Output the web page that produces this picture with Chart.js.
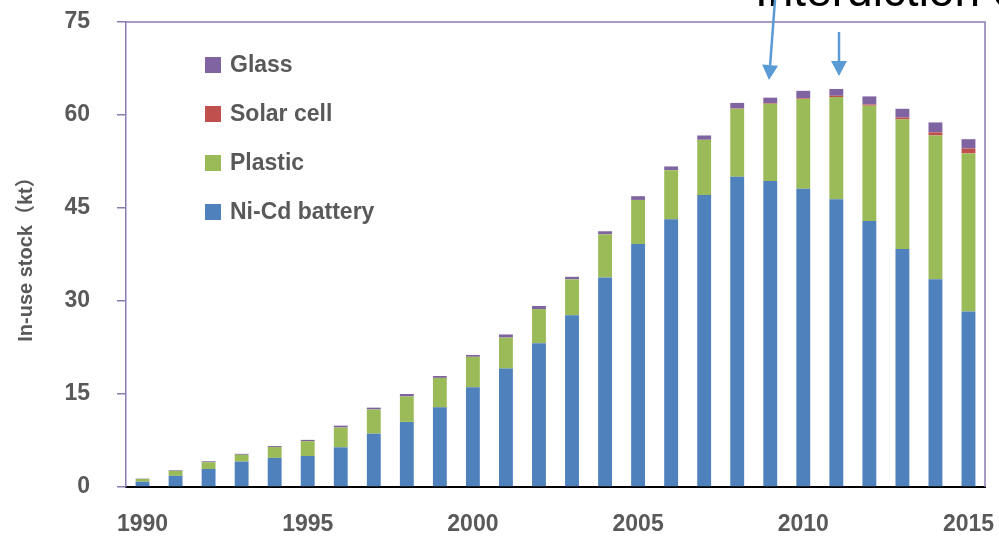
<!DOCTYPE html>
<html>
<head>
<meta charset="utf-8">
<script src="https://cdn.jsdelivr.net/npm/chart.js@4.4.0/dist/chart.umd.min.js"></script>
<style>
  html, body { margin: 0; padding: 0; background: #fff; }
  #wrap { width: 999px; height: 536px; position: relative; }
</style>
</head>
<body>
<div id="wrap"><canvas id="chart"></canvas></div>
<script>
"use strict";
const $ = id => document.getElementById(id);

/* ---------- data (kt) ---------- */
const years = [1990, 1991, 1992, 1993, 1994, 1995, 1996, 1997, 1998, 1999, 2000, 2001, 2002,
  2003, 2004, 2005, 2006, 2007, 2008, 2009, 2010, 2011, 2012, 2013, 2014, 2015];
const nicd    = [0.85, 1.8, 2.9, 4.1, 4.7, 5.0, 6.4, 8.6, 10.5, 12.85, 16.1, 19.1, 23.2,
  27.7, 33.8, 39.2, 43.2, 47.1, 50.05, 49.35, 48.1, 46.4, 42.9, 38.4, 33.5, 28.3];
const plastic = [0.45, 0.8, 1.1, 1.1, 1.75, 2.4, 3.2, 3.9, 4.1, 4.75, 4.9, 5.0, 5.5,
  5.8, 6.95, 7.1, 7.9, 8.9, 10.95, 12.45, 14.5, 16.5, 18.6, 20.9, 23.2, 25.5];
const solar   = [0, 0, 0, 0, 0, 0, 0, 0, 0, 0, 0, 0, 0,
  0, 0, 0, 0, 0, 0.05, 0.1, 0.1, 0.2, 0.2, 0.3, 0.5, 0.8];
const glass   = [0.05, 0.1, 0.15, 0.15, 0.15, 0.2, 0.3, 0.3, 0.4, 0.3, 0.3, 0.5, 0.5,
  0.4, 0.5, 0.6, 0.6, 0.7, 0.9, 0.9, 1.2, 1.1, 1.3, 1.4, 1.6, 1.5];
const yTicks = [0, 15, 30, 45, 60, 75];

const GREY = "#595959";
const PURPLE = "#8B7BB0";
const FONT = "'Liberation Sans', Arial, sans-serif";

/* ---------- legend drawn inside the plot ---------- */
const legendInside = {
  id: "legendInside",
  afterDraw(chart) {
    const ctx = chart.ctx;
    const ds = chart.data.datasets.slice().reverse();
    ctx.save();
    ctx.font = "bold 23px " + FONT;
    ctx.textBaseline = "middle";
    ds.forEach((d, i) => {
      const y = 65 + i * 49;
      ctx.fillStyle = d.backgroundColor;
      ctx.fillRect(205, y - 8, 16, 16);
      ctx.fillStyle = GREY;
      ctx.fillText(d.label, 230, y + 1);
    });
    ctx.restore();
  }
};

/* ---------- frame (top/right) + annotation arrows ---------- */
function arrow(ctx, x0, y0, x1, y1) {
  const a = Math.atan2(y1 - y0, x1 - x0), hl = 15, hw = 8;
  const bx = x1 - hl * Math.cos(a), by = y1 - hl * Math.sin(a);
  ctx.beginPath(); ctx.moveTo(x0, y0); ctx.lineTo(bx, by); ctx.stroke();
  ctx.beginPath();
  ctx.moveTo(x1, y1);
  ctx.lineTo(bx + hw * Math.sin(a), by - hw * Math.cos(a));
  ctx.lineTo(bx - hw * Math.sin(a), by + hw * Math.cos(a));
  ctx.closePath(); ctx.fill();
}

const frame = {
  id: "frame",
  afterDraw(chart) {
    const { ctx, chartArea: ca } = chart;
    ctx.save();
    ctx.strokeStyle = PURPLE; ctx.lineWidth = 1.5;
    ctx.beginPath();
    ctx.moveTo(ca.left, ca.top); ctx.lineTo(ca.right, ca.top); ctx.lineTo(ca.right, ca.bottom);
    ctx.stroke();

    ctx.fillStyle = "#000";
    ctx.font = "46px " + FONT;
    ctx.textBaseline = "alphabetic";
    ctx.fillText("Interdiction of", 755, 6);

    ctx.strokeStyle = "#5B9BD5"; ctx.fillStyle = "#5B9BD5"; ctx.lineWidth = 2.5;
    arrow(ctx, 775, 0, 769, 80);
    arrow(ctx, 839, 32, 839, 76);
    ctx.restore();
  }
};

/* ---------- chart ---------- */
const mk = (label, data, color) => ({ label, data, backgroundColor: color,
  borderWidth: 0, categoryPercentage: 1, barPercentage: 0.42 });

new Chart($("chart"), {
  type: "bar",
  data: {
    labels: years,
    datasets: [
      mk("Ni-Cd battery", nicd, "#4F81BD"),
      mk("Plastic", plastic, "#9BBB59"),
      mk("Solar cell", solar, "#C0504D"),
      mk("Glass", glass, "#8064A2")
    ]
  },
  options: {
    animation: false, responsive: true, maintainAspectRatio: false, devicePixelRatio: 1,
    layout: { padding: { top: 22, right: 14, left: 0, bottom: 0 } },
    plugins: { legend: { display: false }, tooltip: { enabled: false } },
    scales: {
      x: {
        stacked: true,
        grid: { display: false },
        border: { color: "#000", width: 2 },
        ticks: { color: GREY, font: { family: FONT, size: 23, weight: "bold" },
          autoSkip: false, maxRotation: 0, padding: 16,
          callback: (v, i) => years[i] % 5 === 0 ? String(years[i]) : "" },
        afterFit: s => { s.height = 49; s.paddingLeft = 0; s.paddingRight = 0; }
      },
      y: {
        stacked: true, min: 0, max: 75,
        afterBuildTicks: s => { s.ticks = yTicks.map(v => ({ value: v })); },
        grid: { drawOnChartArea: false, drawTicks: true, tickLength: 9, color: PURPLE, lineWidth: 1.5 },
        border: { color: PURPLE, width: 1.5 },
        ticks: { color: GREY, font: { family: FONT, size: 23, weight: "bold" }, padding: 27 },
        title: { display: true, text: "In-use stock（kt）", color: GREY,
          font: { family: FONT + ", 'Noto Sans CJK SC'", size: 20, weight: "bold" },
          padding: { top: 14, bottom: 0 } },
        afterFit: s => { s.width = 126; s.paddingTop = 0; s.paddingBottom = 0; }
      }
    }
  },
  plugins: [legendInside, frame]
});
</script>
</body>
</html>
